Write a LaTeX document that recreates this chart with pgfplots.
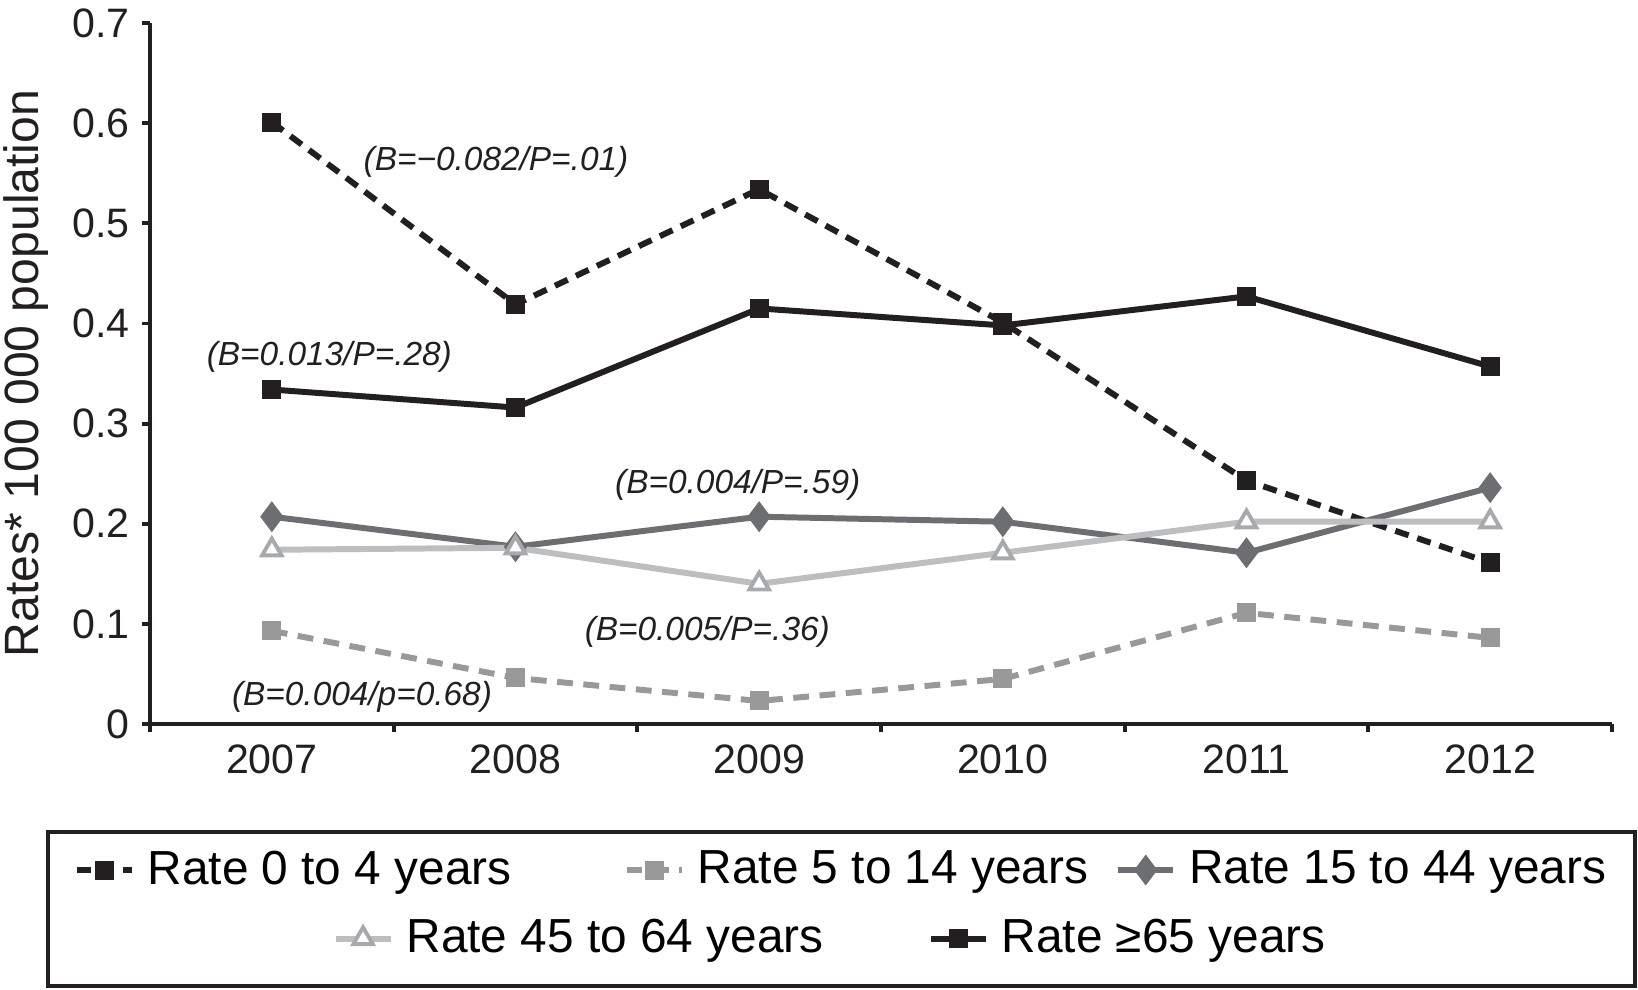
\documentclass[border=0pt]{standalone}
\usepackage{fontspec}
\setmainfont{Liberation Sans}
\usepackage{pgfplots}
\pgfplotsset{compat=1.18}

\definecolor{cblack}{HTML}{231F20}
\definecolor{cmid}{HTML}{999999}
\definecolor{cdark}{HTML}{6D6E71}
\definecolor{clight}{HTML}{BCBEC0}
\definecolor{ctri}{HTML}{A7A9AC}

\pgfplotsset{
  leg/.style={legend image code/.code={
    \draw[mark repeat=2,mark phase=2] plot coordinates {(0cm,0cm) (0.275cm,0cm) (0.55cm,0cm)};}},
  s04/.style={cblack, line width=1.7pt, dash pattern=on 4pt off 2.6pt,
    mark=square*, mark size=1.85pt, mark options={solid, fill=cblack}},
  s514/.style={cmid, line width=1.7pt, dash pattern=on 4.5pt off 3pt,
    mark=square*, mark size=1.85pt, mark options={solid, fill=cmid}},
  s1544/.style={cdark, line width=1.7pt, mark=diamond*, mark size=3pt,
    mark options={solid, fill=cdark}},
  s4564/.style={clight, line width=1.7pt, mark=triangle*, mark size=3.2pt,
    mark options={solid, draw=ctri, fill=white, line width=1.1pt}},
  s65/.style={cblack, line width=1.7pt, mark=square*, mark size=1.85pt,
    mark options={solid, fill=cblack}},
}
\tikzset{note/.style={font=\fontsize{9.5}{11}\selectfont\itshape, text=cblack}}

\begin{document}
\begin{tikzpicture}
\begin{axis}[
  name=ax, at={(0,0)}, anchor=south west,
  scale only axis, width=14.62cm, height=7.01cm,
  xmin=-0.5, xmax=5.5, ymin=0, ymax=0.7,
  axis lines=left, axis line style={-, line width=1.1pt, cblack},
  tick align=outside, major tick length=0.08cm, minor tick length=0.08cm,
  every tick/.style={cblack, line width=1.1pt},
  xtick={0,1,2,3,4,5}, xticklabels={2007,2008,2009,2010,2011,2012},
  major x tick style={draw=none},
  minor xtick={-0.5,0.5,1.5,2.5,3.5,4.5,5.5},
  ytick={0,0.1,0.2,0.3,0.4,0.5,0.6,0.7},
  yticklabels={0,0.1,0.2,0.3,0.4,0.5,0.6,0.7},
  ticklabel style={font=\fontsize{11.7}{14}\selectfont, text=cblack},
  /pgf/number format/assume math mode=true,
  ylabel={Rates* 100 000 population},
  ylabel style={at={(axis description cs:-0.0848,0.5)}, anchor=center,
    font=\fontsize{13.7}{16}\selectfont, text=cblack},
  leg,
  legend columns=3,
  legend cell align=left,
  legend style={draw=none, fill=none, at={(-0.0527,-0.2083)}, anchor=west,
    inner sep=0pt, font=\fontsize{13.6}{16}\selectfont,
    column sep=0.06cm,
    /tikz/column 2/.style={column sep=1.05cm},
    /tikz/column 4/.style={column sep=0.2cm}},
  clip=false,
]
\addplot[s04] coordinates {(0,0.601) (1,0.419) (2,0.534) (3,0.401) (4,0.243) (5,0.161)};
\addlegendentry{Rate 0 to 4 years}
\addplot[s514] coordinates {(0,0.093) (1,0.046) (2,0.023) (3,0.045) (4,0.111) (5,0.086)};
\addlegendentry{Rate 5 to 14 years}
\addplot[s1544] coordinates {(0,0.207) (1,0.177) (2,0.207) (3,0.202) (4,0.171) (5,0.236)};
\addlegendentry{Rate 15 to 44 years}
\addplot[s4564, forget plot] coordinates {(0,0.174) (1,0.176) (2,0.140) (3,0.171) (4,0.202) (5,0.202)};
\addplot[s65, forget plot] coordinates {(0,0.334) (1,0.316) (2,0.415) (3,0.398) (4,0.427) (5,0.357)};

\node[note] at (axis cs:0.92,0.561) {(B=−0.082/P=.01)};
\node[note] at (axis cs:0.236,0.367) {(B=0.013/P=.28)};
\node[note] at (axis cs:1.912,0.239) {(B=0.004/P=.59)};
\node[note] at (axis cs:1.787,0.092) {(B=0.005/P=.36)};
\node[note] at (axis cs:0.37,0.027) {(B=0.004/p=0.68)};
\end{axis}

% second row of the legend
\begin{axis}[
  at={(0,0)}, anchor=south west,
  scale only axis, width=14.62cm, height=7.01cm,
  hide axis, xmin=0, xmax=1, ymin=0, ymax=1,
  leg,
  legend columns=2,
  legend cell align=left,
  legend style={draw=none, fill=none, at={(0.1244,-0.306)}, anchor=west,
    inner sep=0pt, font=\fontsize{13.6}{16}\selectfont,
    column sep=0.06cm,
    /tikz/column 2/.style={column sep=0.97cm}},
]
\addlegendimage{s4564}
\addlegendentry{Rate 45 to 64 years}
\addlegendimage{s65}
\addlegendentry{Rate ≥65 years}
\end{axis}

\draw[cblack, line width=1.1pt] ([shift={(-1.02cm,-1.08cm)}]ax.south west)
  rectangle ([shift={(14.85cm,-2.62cm)}]ax.south west);

\pgfresetboundingbox
\path[use as bounding box] ([shift={(-1.5cm,-2.65cm)}]ax.south west)
  rectangle ([shift={(14.88cm,7.24cm)}]ax.south west);
\end{tikzpicture}
\end{document}
